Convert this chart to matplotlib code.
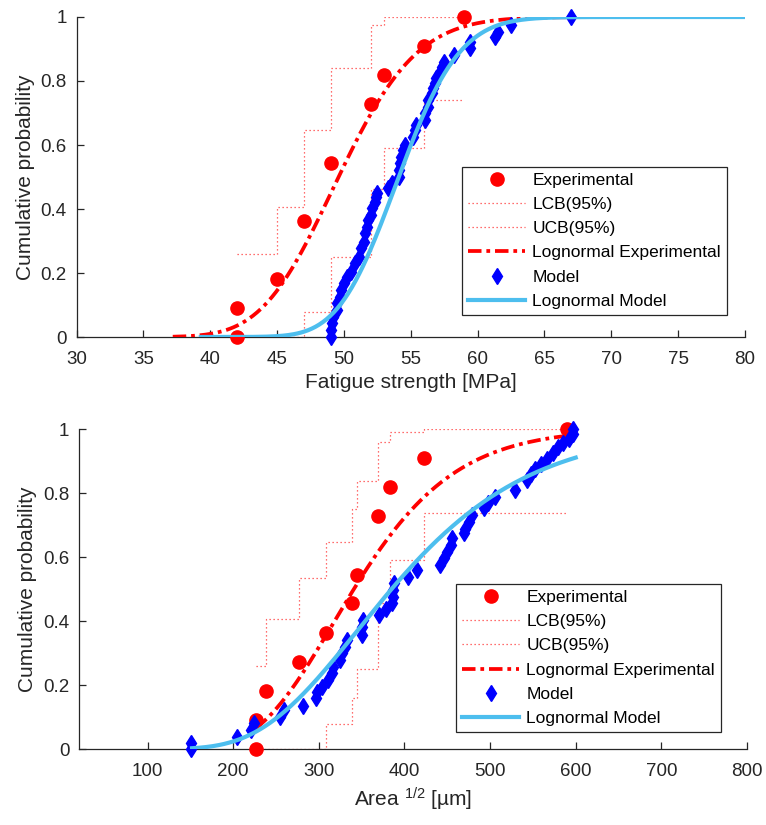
import math
import numpy as np
import matplotlib.pyplot as plt

plt.rcParams['font.family'] = ['Liberation Sans', 'DejaVu Sans']
plt.rcParams['mathtext.default'] = 'regular'

# ---- top panel: fatigue strength [MPa] ----
exp_x1 = [42, 42, 45, 47, 49, 52, 53, 56, 59]
exp_y1 = [0, 0.091, 0.182, 0.364, 0.545, 0.727, 0.818, 0.909, 1.0]
lcb_x1 = [42, 47, 49, 52, 53, 56, 59]
lcb_y1 = [0, 0.079, 0.251, 0.462, 0.59, 0.74, 0.74]
ucb_x1 = [42, 45, 47, 49, 52, 53, 59]
ucb_y1 = [0.26, 0.407, 0.647, 0.84, 0.975, 1.0, 1.0]
mod_x1 = [49.0, 49.0, 49.1, 49.2, 49.5, 49.5, 49.7, 49.8, 50.0, 50.2, 50.5,
          50.8, 51.1, 51.3, 51.5, 51.6, 51.7, 51.8, 52.0, 52.1, 52.3, 52.4,
          52.5, 53.3, 53.6, 54.1, 54.1, 54.2, 54.3, 54.4, 54.6, 55.2, 55.3,
          55.4, 56.1, 56.1, 56.3, 56.3, 56.6, 56.7, 56.8, 56.9, 57.2, 57.3,
          57.5, 58.2, 59.4, 59.4, 61.3, 61.5, 62.5, 67.0]
mod_y1 = [0.0, 0.022, 0.043, 0.064, 0.085, 0.105, 0.126, 0.147, 0.168, 0.189,
          0.204, 0.230, 0.251, 0.277, 0.298, 0.324, 0.345, 0.366, 0.382, 0.402,
          0.423, 0.439, 0.449, 0.465, 0.480, 0.501, 0.522, 0.543, 0.564, 0.585,
          0.600, 0.626, 0.647, 0.663, 0.678, 0.699, 0.720, 0.741, 0.762, 0.777,
          0.793, 0.808, 0.829, 0.845, 0.860, 0.881, 0.902, 0.923, 0.939, 0.954,
          0.975, 1.0]
# lognormal fits: (median, sigma, x range)
fit_exp1 = (49.6, 0.092, 37.2, 80)
fit_mod1 = (54.1, 0.066, 39.3, 80)

# ---- bottom panel: defect size sqrt(area) [um] ----
exp_x2 = [227, 227, 238, 277, 308.6, 338.5, 345, 369.6, 383.5, 422.5, 590]
exp_y2 = [0, 0.091, 0.182, 0.273, 0.364, 0.455, 0.545, 0.727, 0.818, 0.909, 1.0]
lcb_x2 = [227, 308.6, 338.5, 345, 369.6, 383.5, 422.5, 590]
lcb_y2 = [0, 0.078, 0.158, 0.249, 0.455, 0.59, 0.737, 0.737]
ucb_x2 = [227, 238, 277, 308.6, 338.5, 345, 369.6, 383.5, 422.5, 590]
ucb_y2 = [0.26, 0.407, 0.534, 0.647, 0.75, 0.838, 0.96, 0.99, 1.0, 1.0]
mod_x2 = [151, 151, 205, 221, 224, 255, 259, 282, 297, 298, 304, 311, 316,
          317, 325, 327, 331, 333, 350, 350, 352, 370, 378, 386, 387, 387,
          388, 404, 415, 442, 446, 450, 454, 455, 469, 471, 475, 479, 493,
          498, 506, 529, 543, 548, 553, 560, 566, 573, 579, 585, 592, 597, 597]
mod_y2 = [0.0, 0.02, 0.039, 0.059, 0.080, 0.100, 0.122, 0.134, 0.158, 0.179,
          0.194, 0.215, 0.238, 0.257, 0.278, 0.299, 0.320, 0.341, 0.356, 0.382,
          0.403, 0.418, 0.439, 0.455, 0.476, 0.497, 0.520, 0.536, 0.560, 0.575,
          0.596, 0.617, 0.638, 0.658, 0.674, 0.689, 0.710, 0.731, 0.752, 0.768,
          0.788, 0.809, 0.841, 0.860, 0.875, 0.890, 0.905, 0.925, 0.945, 0.955,
          0.970, 0.985, 1.0]
fit_exp2 = (341, 0.27, 227, 590)
fit_mod2 = (385, 0.33, 152, 600)

labels = ['Experimental', 'LCB(95%)', 'UCB(95%)', 'Lognormal Experimental',
          'Model', 'Lognormal Model']

RED = (1, 0, 0)
BLUE = (0, 0, 1)
LBLUE = (0.301, 0.745, 0.933)
DARK = '#262626'


def lognorm_cdf(fit):
    med, sig, x0, x1 = fit
    xs = np.linspace(x0, x1, 300)
    ys = [0.5 * (1 + math.erf(math.log(v / med) / (sig * math.sqrt(2)))) for v in xs]
    return xs, ys


def panel(ax, ex, ey, lx, ly, ux, uy, mx, my, fe, fm, xlim, xticks, xlabel, leg_anchor):
    h = []
    h += ax.plot(ex, ey, 'o', color=RED, ms=9.5, clip_on=False, zorder=3)
    h += ax.step(lx, ly, where='post', color=RED, lw=0.9, ls=(0, (1, 2.2)), alpha=0.75)
    h += ax.step(ux, uy, where='post', color=RED, lw=0.9, ls=(0, (1, 2.2)), alpha=0.75)
    xs, ys = lognorm_cdf(fe)
    h += ax.plot(xs, ys, color=RED, lw=2.7, ls=(0, (3.6, 1.3, 1.0, 1.3)), zorder=4)
    h += ax.plot(mx, my, 'd', color=BLUE, ms=8.5, clip_on=False, zorder=5)
    xs, ys = lognorm_cdf(fm)
    h += ax.plot(xs, ys, color=LBLUE, lw=3.0, zorder=6)

    ax.set_xlim(*xlim)
    ax.set_ylim(0, 1)
    ax.set_xticks(xticks)
    ax.set_yticks([0, 0.2, 0.4, 0.6, 0.8, 1])
    ax.set_yticklabels(['0', '0.2', '0.4', '0.6', '0.8', '1'])
    for s in ['top', 'right']:
        ax.spines[s].set_visible(False)
    for s in ['left', 'bottom']:
        ax.spines[s].set_color(DARK)
        ax.spines[s].set_linewidth(0.9)
    ax.tick_params(direction='in', length=5, width=0.9, colors=DARK, labelsize=13.5)
    ax.tick_params(axis='x', pad=10)
    ax.tick_params(axis='y', pad=7)
    ax.set_xlabel(xlabel, fontsize=15, color=DARK)
    ax.set_ylabel('Cumulative probability', fontsize=15, color=DARK)

    leg = ax.legend(h, labels, loc='lower right', bbox_to_anchor=leg_anchor,
                    borderaxespad=0, fontsize=12.5, frameon=True, fancybox=False,
                    edgecolor=DARK, framealpha=1, handlelength=3.3,
                    handletextpad=0.4, labelspacing=0.52, borderpad=0.35)
    leg.get_frame().set_linewidth(0.9)


fig = plt.figure(figsize=(7.66, 8.25), dpi=100)
ax1 = fig.add_axes([76.5 / 766, 488 / 825, 668.5 / 766, 320 / 825])
ax2 = fig.add_axes([79 / 766, 76 / 825, 668 / 766, 320 / 825])

panel(ax1, exp_x1, exp_y1, lcb_x1, lcb_y1, ucb_x1, ucb_y1, mod_x1, mod_y1,
      fit_exp1, fit_mod1, (30, 80), range(30, 81, 5),
      'Fatigue strength [MPa]', (0.973, 0.069))
panel(ax2, exp_x2, exp_y2, lcb_x2, lcb_y2, ucb_x2, ucb_y2, mod_x2, mod_y2,
      fit_exp2, fit_mod2, (20, 800), range(100, 801, 100),
      'Area $^{1/2}$ [µm]', (0.961, 0.053))

fig.savefig('out.png', dpi=100)
